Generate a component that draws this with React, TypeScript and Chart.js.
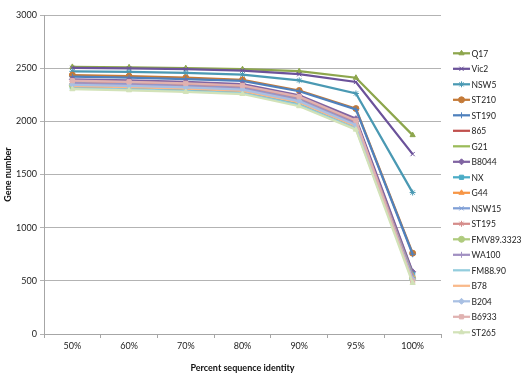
import React, { useEffect, useRef } from "react";
import { Chart, registerables } from "chart.js";
import { drawPoint } from "chart.js/helpers";
Chart.register(...registerables);

const categories = ["50%", "60%", "70%", "80%", "90%", "95%", "100%"];
const seriesNames = ["Q17", "Vic2", "NSW5", "ST210", "ST190", "865", "G21", "B8044", "NX", "G44", "NSW15", "ST195", "FMV89.3323", "WA100", "FM88.90", "B78", "B204", "B6933", "ST265"];
const Q17 = [2512, 2508, 2500, 2490, 2472, 2410, 1870];
const Vic2 = [2503, 2498, 2490, 2478, 2443, 2370, 1692];
const NSW5 = [2470, 2465, 2455, 2440, 2385, 2262, 1330];
const ST210 = [2435, 2425, 2410, 2390, 2290, 2120, 760];
const ST190 = [2420, 2412, 2398, 2380, 2283, 2112, 750];
const S865 = [2385, 2375, 2360, 2340, 2235, 2010, 575];
const G21 = [2345, 2335, 2320, 2300, 2195, 1970, 545];
const B8044 = [2395, 2385, 2370, 2350, 2245, 2025, 585];
const NX = [2320, 2310, 2295, 2275, 2165, 1950, 560];
const G44 = [2360, 2350, 2335, 2315, 2210, 1982, 550];
const NSW15 = [2370, 2360, 2345, 2325, 2220, 1992, 545];
const ST195 = [2378, 2368, 2353, 2333, 2228, 2002, 530];
const FMV = [2338, 2328, 2313, 2293, 2185, 1960, 520];
const WA100 = [2352, 2342, 2327, 2307, 2200, 1975, 530];
const FM88 = [2310, 2300, 2285, 2265, 2152, 1932, 510];
const B78 = [2332, 2322, 2307, 2287, 2178, 1955, 500];
const B204 = [2344, 2334, 2319, 2299, 2190, 1965, 510];
const B6933 = [2382, 2372, 2357, 2337, 2232, 2008, 495];
const ST265 = [2302, 2292, 2277, 2257, 2142, 1922, 480];
const seriesValues = [Q17, Vic2, NSW5, ST210, ST190, S865, G21, B8044, NX, G44, NSW15, ST195, FMV, WA100, FM88, B78, B204, B6933, ST265];
const colors = ["#8DA64D", "#6B529A", "#4A99B3", "#C47A38", "#4F81BD", "#C0504D", "#9BBB59", "#8064A2", "#4BACC6", "#F79646", "#7F9FD6", "#D58C8A", "#AFCB7E", "#A190C2", "#93CDDD", "#F9B98A", "#A9C0E3", "#E0B2B1", "#D2E2B8"];
const markers: any[] = ["triangle", "crossRot", "star", "circle", "cross", false, false, "rectRot", "rect", "triangle", "crossRot", "star", "circle", "cross", false, false, "rectRot", "rect", "triangle"];

const FONT = "Lato, 'Liberation Sans', sans-serif";

export default function App() {
  const ref = useRef<HTMLCanvasElement>(null);
  useEffect(() => {
    document.body.style.margin = "0";
    const legendPlugin = {
      id: "customLegend",
      afterDraw(chart: any) {
        const ctx = chart.ctx;
        ctx.save();
        const x0 = 453, x1 = 470, top = 53.3, step = 15.5;
        seriesNames.forEach((name, i) => {
          const y = top + i * step;
          ctx.strokeStyle = colors[i];
          ctx.lineWidth = 2.25;
          ctx.beginPath();
          ctx.moveTo(x0, y);
          ctx.lineTo(x1, y);
          ctx.stroke();
          if (markers[i]) {
            ctx.fillStyle = colors[i];
            ctx.strokeStyle = colors[i];
            ctx.lineWidth = 1;
            drawPoint(ctx, { pointStyle: markers[i], radius: 3, rotation: 0, borderWidth: 1 } as any, (x0 + x1) / 2, y);
          }
          ctx.fillStyle = "#222";
          ctx.font = `8.5px ${FONT}`;
          ctx.textBaseline = "middle";
          ctx.textAlign = "left";
          ctx.fillText(name, 471.5, y + 0.5);
        });
        ctx.restore();
      },
    };
    const chart = new Chart(ref.current!, {
      type: "line",
      data: {
        labels: categories,
        datasets: seriesNames.map((n, i) => ({
          label: n,
          data: seriesValues[i],
          borderColor: colors[i],
          backgroundColor: colors[i],
          borderWidth: 2.25,
          pointStyle: markers[i],
          pointRadius: markers[i] ? 3 : 0,
          pointBorderWidth: 1,
          pointBackgroundColor: colors[i],
          pointBorderColor: colors[i],
          tension: 0,
          order: -i,
        })),
      },
      options: {
        animation: false,
        responsive: false,
        maintainAspectRatio: false,
        layout: { padding: { left: 0, right: 81, top: 15, bottom: 0 } },
        plugins: { legend: { display: false }, tooltip: { enabled: false } },
        scales: {
          x: {
            offset: true,
            grid: { offset: true, drawOnChartArea: false, tickLength: 4, color: "#A6A6A6" },
            border: { color: "#A6A6A6" },
            ticks: { color: "#222", font: { family: FONT, size: 9 }, padding: 3, maxRotation: 0 },
            title: { display: true, text: "Percent sequence identity", color: "#111", font: { family: FONT, size: 9, weight: "bold" }, padding: { top: 4, bottom: 0 } },
            afterFit: (s: any) => { s.height = 39; },
          },
          y: {
            min: 0,
            max: 3000,
            ticks: { stepSize: 500, color: "#222", font: { family: FONT, size: 9 }, padding: 3, callback: (v: any) => String(v) },
            grid: { color: "#B3B3B3", tickLength: 4 },
            border: { color: "#A6A6A6" },
            title: { display: true, text: "Gene number", color: "#111", font: { family: FONT, size: 9, weight: "bold" }, padding: { top: 3, bottom: 2 } },
            afterFit: (s: any) => { s.width = 44; },
          },
        },
      },
      plugins: [legendPlugin],
    });
    return () => chart.destroy();
  }, []);
  return <canvas ref={ref} width={522} height={373} style={{ display: "block" }} />;
}
